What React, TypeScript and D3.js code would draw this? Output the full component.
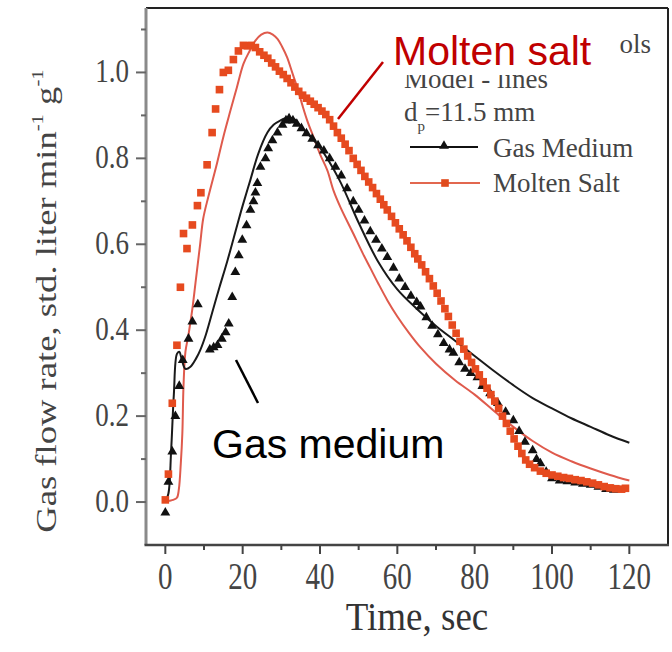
import React from "react";
import * as d3 from "d3";

// Experimental data (symbols): [time sec, flow rate]
const gasMediumData: [number, number][] = [
  [0, -0.025], [0.8, 0.047], [1.8, 0.117], [2.6, 0.2], [3.6, 0.27], [4.5, 0.33],
  [6, 0.38], [7, 0.42], [8.4, 0.46], [11.5, 0.355], [12.5, 0.36], [13.5, 0.365],
  [14.6, 0.38], [15.6, 0.395], [16.4, 0.415], [17.3, 0.477], [18.1, 0.535], [19, 0.574],
  [19.9, 0.61], [21, 0.644], [22, 0.68], [22.8, 0.7], [23.3, 0.72], [23.8, 0.742],
  [24.6, 0.78], [25.9, 0.8], [26.6, 0.823], [27.7, 0.842], [29, 0.86], [30.3, 0.878],
  [31.2, 0.888], [32, 0.893], [33, 0.888], [34, 0.88], [35.2, 0.87], [36.5, 0.858],
  [38, 0.845], [39.5, 0.83], [41, 0.818], [42.5, 0.8], [44, 0.78], [45.5, 0.76],
  [47, 0.73], [48.6, 0.7], [50, 0.68], [51.5, 0.655], [53, 0.63], [54.5, 0.61],
  [56, 0.59], [57.4, 0.57], [59, 0.545], [60.5, 0.52], [62, 0.5], [63.5, 0.48],
  [65, 0.465], [66, 0.455], [67.5, 0.43], [69, 0.41], [70.5, 0.39], [72, 0.37],
  [73.5, 0.355], [74.5, 0.347], [76, 0.325], [77.5, 0.31], [79, 0.3], [80.7, 0.29],
  [82, 0.27], [84, 0.253], [86, 0.23], [88, 0.21], [90, 0.19], [91.5, 0.165],
  [93, 0.14], [95, 0.12], [96, 0.1], [97, 0.09], [98.5, 0.07], [100, 0.055],
  [102, 0.05], [104, 0.048], [106, 0.045], [108, 0.042], [110, 0.04], [112, 0.035],
  [114, 0.03], [116, 0.028],
];

const moltenSaltData: [number, number][] = [
  [0, 0.005], [0.8, 0.065], [1.8, 0.23], [3, 0.365], [3.9, 0.5], [4.7, 0.625],
  [5.6, 0.59], [7, 0.645], [8.3, 0.69], [9.2, 0.72], [10.8, 0.785], [12.1, 0.86],
  [13, 0.915], [14, 0.96], [15, 1.0], [16.3, 1.005], [17.6, 1.03], [18.9, 1.05],
  [20.2, 1.063], [21.2, 1.062], [22.2, 1.063], [23.3, 1.058], [24.4, 1.048], [25.5, 1.04],
  [26.5, 1.033], [27.5, 1.022], [28.5, 1.013], [29.5, 1.003], [30.5, 0.995], [31.5, 0.986],
  [32.5, 0.976], [33.5, 0.966], [34.5, 0.956], [35.5, 0.947], [36.5, 0.94], [37.5, 0.933],
  [38.5, 0.926], [39.5, 0.918], [40.5, 0.91], [41.5, 0.902], [42.5, 0.89], [43.5, 0.875],
  [44.5, 0.86], [45.5, 0.847], [46.5, 0.833], [47.5, 0.818], [48.6, 0.8], [49.6, 0.786],
  [50.6, 0.772], [51.6, 0.758], [52.6, 0.745], [53.6, 0.732], [54.6, 0.718], [55.6, 0.705],
  [56.5, 0.692], [57.4, 0.68], [58.5, 0.665], [59.5, 0.65], [60.5, 0.636], [61.5, 0.622],
  [62.5, 0.608], [63.5, 0.593], [64.5, 0.578], [65.3, 0.566], [66.3, 0.552], [67.3, 0.536],
  [68.3, 0.52], [69.3, 0.503], [70.3, 0.486], [71.3, 0.468], [72.3, 0.45], [73.2, 0.432],
  [74.2, 0.412], [75.2, 0.393], [76.2, 0.374], [77.2, 0.356], [78.2, 0.34], [79.2, 0.325],
  [80.2, 0.31], [81.2, 0.296], [82.2, 0.28], [83.2, 0.265], [84.2, 0.25], [85.2, 0.235],
  [86.2, 0.218], [87.2, 0.2], [88.2, 0.183], [89.2, 0.165], [90.2, 0.147], [91.2, 0.13],
  [92.2, 0.113], [93.2, 0.098], [94.2, 0.088], [95.5, 0.08], [97, 0.072], [98.5, 0.067],
  [100, 0.063], [101.5, 0.06], [103, 0.057], [104.5, 0.055], [106, 0.052], [107.5, 0.05],
  [109, 0.047], [110.5, 0.044], [112, 0.04], [113.5, 0.036], [115, 0.033], [116.5, 0.031],
  [118, 0.03], [119, 0.032],
];

// Model curves (lines)
const gasMediumModel: [number, number][] = [
  [0, 0], [0.8, 0.02], [1.5, 0.12], [2.2, 0.25], [3, 0.345], [3.6, 0.35], [4.3, 0.33],
  [5.2, 0.31], [6.5, 0.315], [8, 0.335], [9, 0.353], [10.5, 0.39], [12.4, 0.45],
  [14, 0.5], [16, 0.56], [18.6, 0.645], [20, 0.69], [22, 0.75], [24, 0.81], [26.4, 0.86],
  [28, 0.878], [29.7, 0.888], [31.8, 0.895], [33.5, 0.89], [35, 0.875], [36.7, 0.858],
  [40, 0.825], [45, 0.75], [50, 0.65], [55, 0.56], [60, 0.495], [65, 0.45], [70, 0.41],
  [75, 0.375], [80, 0.34], [85, 0.305], [90, 0.272], [95, 0.242], [100, 0.218],
  [105, 0.195], [110, 0.175], [115, 0.155], [120, 0.138],
];

const moltenSaltModel: [number, number][] = [
  [0, 0], [1, 0.003], [2, 0.005], [3, 0.01], [3.5, 0.03], [4, 0.09], [4.4, 0.16],
  [4.7, 0.27], [5.2, 0.35], [6, 0.39], [7, 0.45], [7.8, 0.51], [9, 0.6], [9.8, 0.66],
  [11.1, 0.71], [13.4, 0.79], [15, 0.85], [16.8, 0.91], [18.5, 0.965], [20.2, 1.02],
  [21.8, 1.05], [23.3, 1.074], [24.8, 1.088], [26.4, 1.093], [27.8, 1.088], [29, 1.078],
  [30.2, 1.06], [31.5, 1.035], [32.8, 1.0], [34.1, 0.965], [35.4, 0.925], [36.7, 0.888],
  [38.3, 0.85], [40, 0.81], [41.9, 0.772], [43.5, 0.725], [45.3, 0.686], [48.6, 0.625],
  [51, 0.58], [53, 0.545], [55, 0.51], [57.4, 0.47], [60, 0.432], [63, 0.394], [66, 0.36],
  [70, 0.322], [75, 0.283], [80, 0.25], [85, 0.212], [90, 0.175], [95, 0.142], [100, 0.115],
  [105, 0.095], [110, 0.078], [115, 0.063], [120, 0.05],
];

const xTicks = [0, 20, 40, 60, 80, 100, 120];
const xMinorTicks = [10, 30, 50, 70, 90, 110];
const yTicks = [0, 0.2, 0.4, 0.6, 0.8, 1.0];
const yMinorTicks = [0.1, 0.3, 0.5, 0.7, 0.9, 1.1];

const W = 672;
const H = 652;
const serif = "'Liberation Serif', 'Times New Roman', serif";
const sans = "'Liberation Sans', Arial, sans-serif";

export default function App() {
  const x = d3.scaleLinear().domain([-5, 130]).range([146, 668]);
  const y = d3.scaleLinear().domain([-0.1, 1.15]).range([545, 8]);

  const line = d3
    .line<[number, number]>()
    .x((d) => x(d[0]))
    .y((d) => y(d[1]))
    .curve(d3.curveCatmullRom.alpha(0.5));

  const tri = d3.symbol(d3.symbolTriangle, 42)();
  const sq = d3.symbol(d3.symbolSquare, 58)();

  const [x0, x1] = x.range();
  const [yb, yt] = y.range();

  return (
    <svg
      width={W}
      height={H}
      style={{ position: "absolute", left: 0, top: 0, background: "#fff" }}
    >
      <defs>
        {/* the white label box of the annotation hides part of the legend */}
        <clipPath id="legendClip">
          <path d={`M0,0H${W}V${H}H0Z M386,0V75H619V0Z`} clipRule="evenodd" />
        </clipPath>
      </defs>

      {/* model lines */}
      <path d={line(moltenSaltModel) || ""} fill="none" stroke="#df5a4c" strokeWidth={2} />
      <path d={line(gasMediumModel) || ""} fill="none" stroke="#1a1a1a" strokeWidth={2} />

      {/* data symbols */}
      {gasMediumData.map((d, i) => (
        <path key={"g" + i} d={tri || ""} transform={`translate(${x(d[0])},${y(d[1])})`} fill="#111" />
      ))}
      {moltenSaltData.map((d, i) => (
        <path key={"m" + i} d={sq || ""} transform={`translate(${x(d[0])},${y(d[1])})`} fill="#e64a1f" />
      ))}

      {/* frame */}
      <line x1={x0} x2={x1} y1={yt} y2={yt} stroke="#222" strokeWidth={2} />
      <line x1={x1} x2={x1} y1={yt} y2={yb} stroke="#222" strokeWidth={2} />
      <line x1={x0} x2={x0} y1={yt} y2={yb} stroke="#8a8a8a" strokeWidth={3} />
      <line x1={x0 - 1.5} x2={x1 + 1} y1={yb} y2={yb} stroke="#444" strokeWidth={2.5} />

      {/* y axis ticks */}
      {yTicks.map((t) => (
        <g key={"yt" + t}>
          <line x1={x0 - 10} x2={x0} y1={y(t)} y2={y(t)} stroke="#666" strokeWidth={2} />
          <text
            transform={`translate(${x0 - 17},${y(t) + 10}) scale(1,1.28)`}
            textAnchor="end"
            fontFamily={serif}
            fontSize={27}
            fill="#444"
          >
            {t.toFixed(1)}
          </text>
        </g>
      ))}
      {yMinorTicks.map((t) => (
        <line key={"ym" + t} x1={x0 - 5} x2={x0} y1={y(t)} y2={y(t)} stroke="#666" strokeWidth={2} />
      ))}

      {/* x axis ticks */}
      {xTicks.map((t) => (
        <g key={"xt" + t}>
          <line x1={x(t)} x2={x(t)} y1={yb} y2={yb + 9} stroke="#444" strokeWidth={2} />
          <text
            transform={`translate(${x(t)},${yb + 44}) scale(1,1.28)`}
            textAnchor="middle"
            fontFamily={serif}
            fontSize={29}
            fill="#444"
          >
            {t}
          </text>
        </g>
      ))}
      {xMinorTicks.map((t) => (
        <line key={"xm" + t} x1={x(t)} x2={x(t)} y1={yb} y2={yb + 5} stroke="#444" strokeWidth={2} />
      ))}

      {/* axis titles */}
      <text
        transform={`translate(417,630) scale(1,1.1)`}
        textAnchor="middle"
        fontFamily={serif}
        fontSize={37}
        fill="#333"
      >
        Time, sec
      </text>
      <text
        transform={`translate(56,301) scale(1,1.22) rotate(-90)`}
        textAnchor="middle"
        fontFamily={serif}
        fontSize={30}
        fill="#444"
      >
        Gas flow rate, std. liter min
        <tspan fontSize={17} dy={-13}>-1</tspan>
        <tspan dy={13}> g</tspan>
        <tspan fontSize={17} dy={-13}>-1</tspan>
      </text>

      {/* legend */}
      <g fontFamily={serif} fill="#444" fontSize={27}>
        <g clipPath="url(#legendClip)">
          <text x={651} y={53} textAnchor="end">Data - symbols</text>
          <text x={404} y={88}>Model - lines</text>
        </g>
        <text x={404} y={121}>
          d<tspan fontSize={15} dy={10}>p</tspan>
          <tspan dy={-10}>=11.5 mm</tspan>
        </text>
        <line x1={410} x2={478} y1={147} y2={147} stroke="#111" strokeWidth={2} />
        <path d={tri || ""} transform="translate(444,146)" fill="#111" />
        <text x={493} y={157}>Gas Medium</text>
        <line x1={410} x2={480} y1={183} y2={183} stroke="#e2674f" strokeWidth={2} />
        <path d={sq || ""} transform="translate(445,183)" fill="#e04a1c" />
        <text x={493} y={192}>Molten Salt</text>
      </g>

      {/* annotations */}
      <text x={393} y={65} fontFamily={sans} fontSize={41} fill="#c00000">
        Molten salt
      </text>
      <line x1={383} x2={338} y1={62} y2={119} stroke="#c00000" strokeWidth={2.5} />
      <text x={212} y={458} fontFamily={sans} fontSize={41} fill="#000">
        Gas medium
      </text>
      <line x1={236} x2={258} y1={360} y2={403} stroke="#000" strokeWidth={2.5} />
    </svg>
  );
}
